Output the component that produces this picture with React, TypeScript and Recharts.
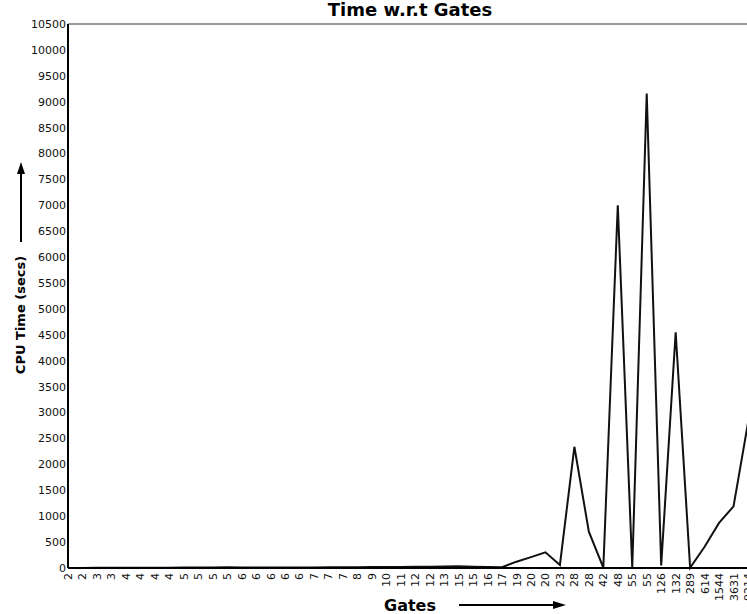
import { LineChart, Line, XAxis, YAxis, ReferenceLine } from 'recharts'

const gates = [
  '2', '2', '3', '3', '4', '4', '4', '4', '5', '5', '5', '5',
  '6', '6', '6', '6', '6', '7', '7', '7', '8', '9', '10', '11',
  '12', '12', '13', '15', '15', '16', '17', '19', '20', '20', '23', '28',
  '28', '42', '48', '55', '55', '126', '132', '289', '614', '1544', '3631', '9214',
]

const cpuTime = [
  2, 2, 3, 3, 4, 5, 5, 6, 8, 9, 10, 14,
  8, 9, 10, 10, 11, 12, 13, 14, 16, 18, 20, 20,
  22, 24, 28, 35, 25, 20, 15, 122, 210, 303, 58, 2340,
  700, 5, 7000, 5, 9160, 50, 4550, 5, 410, 870, 1190, 2800,
]

const yTicks = [
  0, 500, 1000, 1500, 2000, 2500, 3000, 3500, 4000, 4500, 5000,
  5500, 6000, 6500, 7000, 7500, 8000, 8500, 9000, 9500, 10000, 10500,
]

const rows = gates.map((g, i) => ({ gate: g, time: cpuTime[i] }))

const FONT = '"DejaVu Sans", Verdana, sans-serif'

// rotated category labels, reading bottom-to-top
function GateTick({ x, y, payload }: any) {
  return (
    <text
      x={x}
      y={y}
      transform={`rotate(-90, ${x}, ${y})`}
      dx={3}
      dy={4}
      textAnchor="end"
      fontSize={11}
      fontFamily={FONT}
      fill="#111"
    >
      {payload.value}
    </text>
  )
}

export default function App() {
  return (
    <div
      style={{
        position: 'absolute',
        left: 0,
        top: 0,
        width: 747,
        height: 614,
        overflow: 'hidden',
        background: '#fff',
      }}
    >
      <LineChart
        width={770}
        height={614}
        data={rows}
        margin={{ top: 24, right: 22, bottom: 0, left: 0 }}
      >
        <ReferenceLine y={10500} stroke="#777" strokeWidth={1.5} />
        <XAxis
          dataKey="gate"
          interval={0}
          height={46}
          tick={<GateTick />}
          tickLine={false}
          axisLine={{ stroke: '#000', strokeWidth: 2 }}
        />
        <YAxis
          width={68}
          domain={[0, 10500]}
          ticks={yTicks}
          interval={0}
          tickLine={false}
          tickSize={2}
          tickMargin={0}
          axisLine={{ stroke: '#000', strokeWidth: 2 }}
          tick={{ fontSize: 11, fontFamily: FONT, fill: '#111' }}
        />
        <Line
          type="linear"
          dataKey="time"
          stroke="#111"
          strokeWidth={2}
          dot={false}
          isAnimationActive={false}
        />
        <text
          x={410}
          y={16}
          textAnchor="middle"
          fontSize={18}
          fontWeight="bold"
          fontFamily={FONT}
        >
          Time w.r.t Gates
        </text>
        <text
          x={0}
          y={0}
          transform="translate(25, 315) rotate(-90)"
          textAnchor="middle"
          fontSize={13}
          fontWeight="bold"
          fontFamily={FONT}
        >
          CPU Time (secs)
        </text>
        <line x1={21} y1={242} x2={21} y2={172} stroke="#000" strokeWidth={2} />
        <polygon points="21,162 17,174 25,174" fill="#000" />
        <text
          x={410}
          y={611}
          textAnchor="middle"
          fontSize={16}
          fontWeight="bold"
          fontFamily={FONT}
        >
          Gates
        </text>
        <line x1={459} y1={605} x2={554} y2={605} stroke="#000" strokeWidth={2} />
        <polygon points="566,605 553,601 553,609" fill="#000" />
      </LineChart>
    </div>
  )
}
